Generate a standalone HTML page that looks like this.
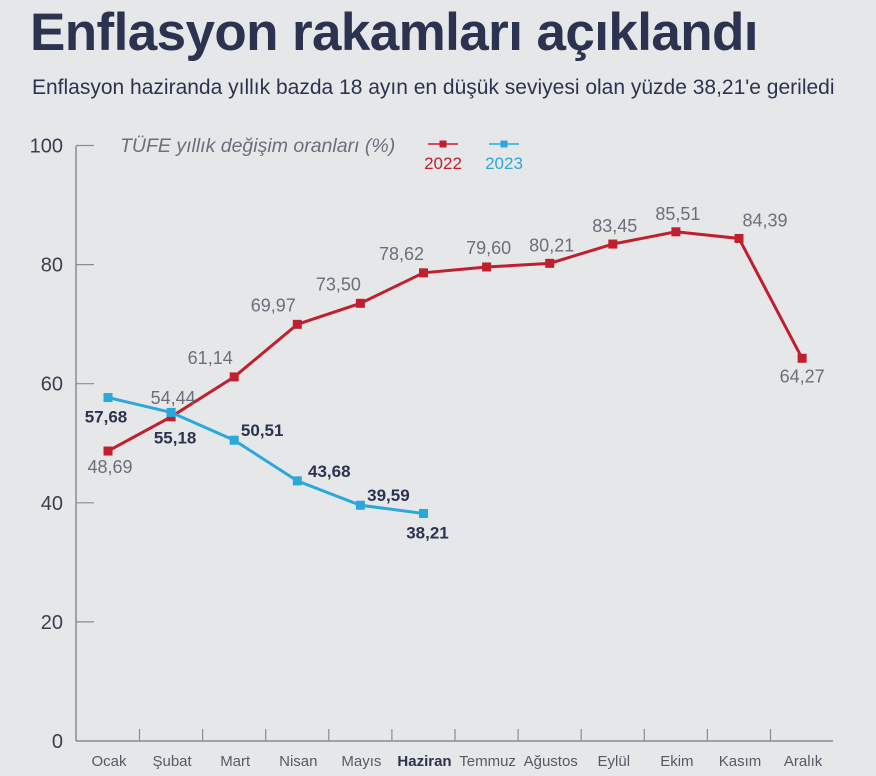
<!DOCTYPE html>
<html><head><meta charset="utf-8"><style>
html,body{margin:0;padding:0;background:#e6e7e9;}
body{width:876px;height:776px;overflow:hidden;position:relative;font-family:"Liberation Sans",sans-serif;}
#title{position:absolute;left:30px;top:2px;font-size:53px;font-weight:bold;color:#2b3350;letter-spacing:-0.6px;margin:0;white-space:nowrap;}
#subtitle{position:absolute;left:32px;top:76px;font-size:21px;color:#2b3350;margin:0;white-space:nowrap;}
svg{position:absolute;left:0;top:0;}
</style></head><body>
<h1 id="title">Enflasyon rakamları açıklandı</h1>
<p id="subtitle">Enflasyon haziranda yıllık bazda 18 ayın en düşük seviyesi olan yüzde 38,21'e geriledi</p>
<svg id="chart" width="876" height="776"></svg>
<script>
const categories=["Ocak","Şubat","Mart","Nisan","Mayıs","Haziran","Temmuz","Ağustos","Eylül","Ekim","Kasım","Aralık"];
const values2022=[48.69,54.44,61.14,69.97,73.50,78.62,79.60,80.21,83.45,85.51,84.39,64.27];
const values2023=[57.68,55.18,50.51,43.68,39.59,38.21];
const yTicks=[0,20,40,60,80,100];
// label offsets (layout only)
const off22=[[2,22],[2,-13],[-24,-13],[-24,-13],[-22,-13],[-22,-13],[2,-13],[2,-12],[2,-12],[2,-12],[26,-12],[0,24]];
const off23=[[-2,25],[4,31],[28,-4],[32,-4],[28,-4],[4,25]];
const svg=document.getElementById('chart');
const NS='http://www.w3.org/2000/svg';
const x=i=>108+i*63.1;
const y=v=>741-v*5.955;
function mk(tag,at,parent){const e=document.createElementNS(NS,tag);for(const k in at)e.setAttribute(k,at[k]);(parent||svg).appendChild(e);return e;}
let ax=mk('line',{x1:76,y1:146,x2:76,y2:741,stroke:'#8a8c90','stroke-width':1.5});


let bx=mk('line',{x1:76,y1:741,x2:x(11)+31,y2:741,stroke:'#8a8c90','stroke-width':1.5});


yTicks.forEach(t=>{
  if(t>0){const l=mk('line',{x1:76,y1:y(t),x2:94,y2:y(t),stroke:'#8a8c90','stroke-width':1.2});
  
  }
  const tx=mk('text',{x:63,y:y(t)+7,'text-anchor':'end','font-size':20,fill:'#3a3f4f'});tx.textContent=t;
  
  
});
categories.forEach((c,i)=>{
  if(i<11){const l=mk('line',{x1:x(i)+31.5,y1:741,x2:x(i)+31.5,y2:729,stroke:'#8a8c90','stroke-width':1.2});
  
  }
  const tx=mk('text',{x:x(i)+1,y:766,'text-anchor':'middle','font-size':15,fill:c==='Haziran'?'#2b3350':'#555a66','font-weight':c==='Haziran'?'bold':'normal'});
  tx.textContent=c;
  
  
});
function series(vals,color,name,offs,lblColor,bold){
  const p=mk('polyline',{points:vals.map((v,i)=>x(i)+','+y(v)).join(' '),fill:'none',stroke:color,'stroke-width':3});
  
  
  vals.forEach((v,i)=>{
    const r=mk('rect',{x:x(i)-4.5,y:y(v)-4.5,width:9,height:9,fill:color});
    
    
    const t=mk('text',{x:x(i)+offs[i][0],y:y(v)+offs[i][1],'text-anchor':'middle','font-size':bold?17:18,fill:lblColor,'font-weight':bold?'bold':'normal'});
    t.textContent=v.toFixed(2).replace('.',',');
    
    
  });
}
series(values2022,'#c0202e','series-2022',off22,'#6b6f7c',false);
series(values2023,'#2aa8da','series-2023',off23,'#2b3350',true);
const lt=mk('text',{x:120,y:152,'font-size':19.5,'font-style':'italic',fill:'#6b6f7c'});lt.textContent='TÜFE yıllık değişim oranları (%)';


[['2022','#c0202e',443],['2023','#2aa8da',504]].forEach(([n,c,cx])=>{
  const g=mk('g',{});
  
  
  mk('line',{x1:cx-15,y1:144,x2:cx+15,y2:144,stroke:c,'stroke-width':1.5},g);
  mk('rect',{x:cx-3.5,y:140.5,width:7,height:7,fill:c},g);
  const t=mk('text',{x:cx,y:169,'text-anchor':'middle','font-size':17,fill:c},g);t.textContent=n;
});
</script>
</body></html>
